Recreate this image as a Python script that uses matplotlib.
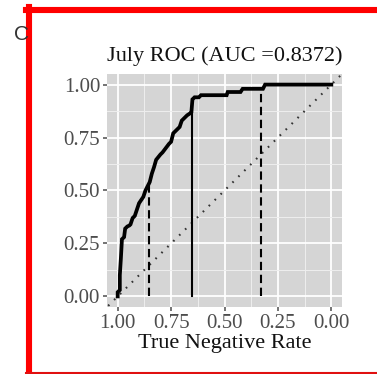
import numpy as np
import matplotlib
matplotlib.use("Agg")
from matplotlib import pyplot as plt
from matplotlib.lines import Line2D

# ROC curve (specificity, sensitivity)
spec = [1.00, 1.00, 0.99, 0.99, 0.985, 0.98, 0.97, 0.965, 0.955, 0.945,
        0.94, 0.93, 0.92, 0.91, 0.90, 0.89, 0.88, 0.87, 0.86, 0.85,
        0.84, 0.83, 0.82, 0.80, 0.79, 0.775, 0.76, 0.75, 0.74, 0.73,
        0.71, 0.70, 0.69, 0.675, 0.66, 0.655, 0.65, 0.64, 0.62, 0.61,
        0.49, 0.485, 0.425, 0.415, 0.32, 0.31, 0.00]
sens = [0.00, 0.02, 0.03, 0.10, 0.18, 0.27, 0.28, 0.32, 0.33, 0.335,
        0.34, 0.37, 0.38, 0.41, 0.44, 0.455, 0.47, 0.50, 0.52, 0.54,
        0.58, 0.61, 0.645, 0.67, 0.68, 0.70, 0.72, 0.73, 0.77, 0.78,
        0.80, 0.83, 0.84, 0.855, 0.865, 0.87, 0.93, 0.94, 0.94, 0.95,
        0.95, 0.965, 0.965, 0.98, 0.98, 1.00, 1.00]

# cut-off markers
cut_spec = [0.853, 0.65, 0.33]
cut_sens = [0.53, 0.93, 0.98]
cut_style = ['dashed', 'solid', 'dashed']

ticks = [1.00, 0.75, 0.50, 0.25, 0.00]
title = 'July ROC (AUC =0.8372)'
xlabel = 'True Negative Rate'

W, H = 377, 374
fig = plt.figure(figsize=(W/100, H/100), dpi=100)
ax = fig.add_axes([107/W, 1 - 307/H, 235/W, 233/H])

serif = ['Liberation Serif', 'DejaVu Serif']

ax.set_facecolor('#d5d5d5')
for s in ax.spines.values():
    s.set_visible(False)

ax.set_xlim(1.05, -0.05)
ax.set_ylim(-0.05, 1.05)
ax.set_xticks(ticks)
ax.set_yticks(ticks)
ax.set_xticks([0.875, 0.625, 0.375, 0.125], minor=True)
ax.set_yticks([0.875, 0.625, 0.375, 0.125], minor=True)
ax.set_xticklabels(['%.2f' % t for t in ticks])
ax.set_yticklabels(['%.2f' % t for t in ticks])
ax.grid(which='major', color='white', lw=1.3)
ax.grid(which='minor', color='#eeeeee', lw=0.7)
ax.set_axisbelow(True)
ax.tick_params(which='major', length=3, width=1.1, color='#4d4d4d',
               labelcolor='#4d4d4d', labelsize=15, pad=2)
ax.tick_params(which='minor', length=0)
for lab in ax.get_xticklabels() + ax.get_yticklabels():
    lab.set_family(serif)

# diagonal reference line
d = np.array([1.1, -0.1])
ax.plot(d, 1 - d, color='#333333', lw=1.5, linestyle=(0, (0.8, 3.2)))

for x, y, ls in zip(cut_spec, cut_sens, cut_style):
    if ls == 'dashed':
        ax.plot([x, x], [0, y], color='black', lw=1.5, dashes=(4, 2.2))
    else:
        ax.plot([x, x], [0, y], color='black', lw=1.5)

ax.plot(spec, sens, color='black', lw=2.7, solid_joinstyle='miter')

ax.set_title(title, family=serif, fontsize=16, color='#111111', pad=9)
ax.set_xlabel(xlabel, family=serif, fontsize=16, color='#111111', labelpad=1)

# panel letter and red frame
fig.text(14/W, 1 - 35/H, 'C', fontsize=15, color='#333333',
         family='Liberation Sans', va='center', ha='left')
fig.add_artist(Line2D([29/W, 29/W], [1 - 7/H, 1 - 374/H],
                      transform=fig.transFigure, color='#ff0000', lw=4.4))
fig.add_artist(Line2D([26/W, 1.0], [1 - 10/H, 1 - 10/H],
                      transform=fig.transFigure, color='#ff0000', lw=4.4))
fig.add_artist(Line2D([26/W, 1.0], [1 - 372.5/H, 1 - 372.5/H],
                      transform=fig.transFigure, color='#e01010', lw=1.5))

fig.savefig('out.png', dpi=100)
